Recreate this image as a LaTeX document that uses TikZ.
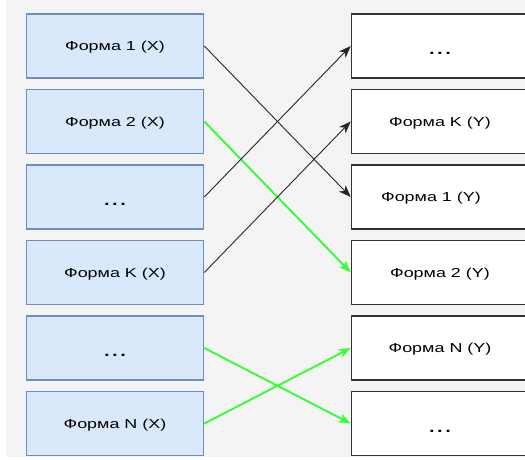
\documentclass[tikz,border=0pt]{standalone}
\usepackage{fontspec}
\setmainfont{Liberation Sans}[FakeStretch=1.38]
\usetikzlibrary{arrows.meta,positioning}
\definecolor{formfill}{HTML}{DAE8FC}
\definecolor{formline}{HTML}{6C8EBF}
\definecolor{linkgreen}{HTML}{33FF33}
\definecolor{pagegray}{HTML}{F4F4F4}
\tikzset{
  formx/.style={draw=formline, fill=formfill, line width=1.6pt,
    minimum width=177pt, minimum height=64pt, inner sep=0pt,
    font=\fontsize{13}{15}\selectfont, text depth=0pt},
  formy/.style={formx, draw=black!80, fill=white},
  dots/.style={font=\fontsize{21}{21}\selectfont, text height=17pt, text depth=0pt},
  link/.style={-{Stealth[length=12pt,width=9pt,inset=3.5pt]}, line width=0.9pt, black!85},
  greenlink/.style={link, draw=linkgreen, line width=1.9pt}
}
\begin{document}
\begin{tikzpicture}[x=1pt,y=-1pt]
  \useasboundingbox (0,0) rectangle (525,459);
  \fill[pagegray] (6,0) rectangle (525,457);
  \def\xl{115}
  \def\xr{440}
  % left column
  \node[formx] (x1) at (\xl,46) {Форма 1 (X)};
  \node[formx] (x2) at (\xl,121.5) {Форма 2 (X)};
  \node[formx, dots] (x3) at (\xl,197) {...};
  \node[formx] (xk) at (\xl,272.5) {Форма K (X)};
  \node[formx, dots] (x5) at (\xl,348) {...};
  \node[formx] (xn) at (\xl,423.5) {Форма N (X)};
  % right column
  \node[formy, dots] (y1) at (\xr,46) {...};
  \node[formy] (yk) at (\xr,121.5) {Форма K (Y)};
  \node[formy] (y3) at (\xr,197) {\hspace*{-18pt}Форма 1 (Y)};
  \node[formy] (y2) at (\xr,272.5) {Форма 2 (Y)};
  \node[formy] (yn) at (\xr,348) {Форма N (Y)};
  \node[formy, dots] (y6) at (\xr,423.5) {...};
  % links
  \draw[link](x1.east)--(y3.west);
  \draw[greenlink](x2.east)--(y2.west);
  \draw[link](x3.east)--(y1.west);
  \draw[link](xk.east)--(yk.west);
  \draw[greenlink](x5.east)--(y6.west);
  \draw[greenlink](xn.east)--(yn.west);
\end{tikzpicture}
\end{document}
